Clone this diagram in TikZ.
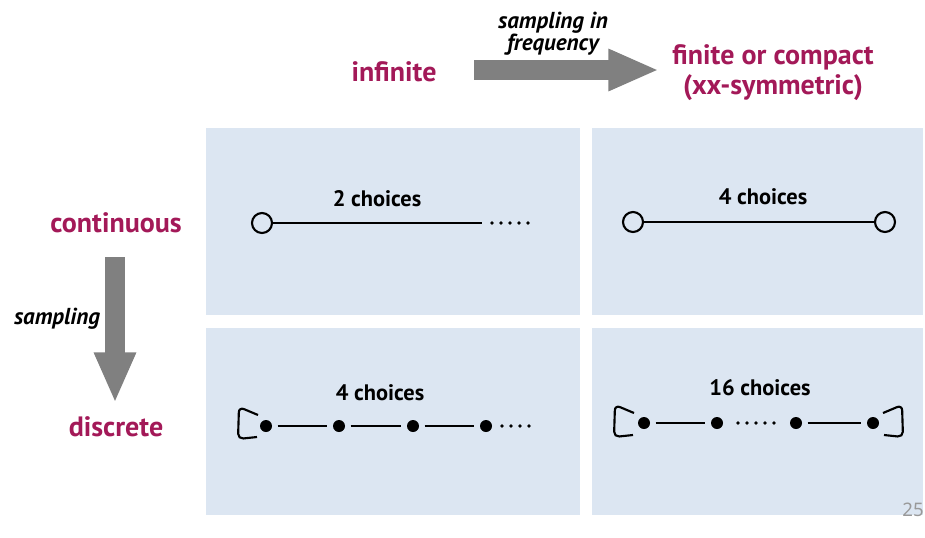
\documentclass[tikz,border=0pt]{standalone}
\usepackage{fontspec}
\setmainfont{PT Sans}
\newfontfamily\pagefont{Noto Sans}
\usetikzlibrary{arrows.meta, positioning}
\definecolor{titlered}{RGB}{163,25,88}
\definecolor{panelblue}{RGB}{220,230,242}
\definecolor{arrowgray}{RGB}{128,128,128}
\tikzset{
	heading/.style={text=titlered, font=\bfseries\fontsize{21}{23}\selectfont, align=center, inner sep=0pt},
	howto/.style={font=\bfseries\itshape\fontsize{17.3}{16.5}\selectfont, align=center, inner sep=0pt},
	count/.style={font=\bfseries\fontsize{16.8}{18}\selectfont, inner sep=0pt},
	panel/.style={fill=panelblue},
	bigarrow/.style={arrowgray, line width=15pt, -{Triangle[length=38pt, width=29pt]}},
	opendot/.style={circle, draw, line width=1.6pt, fill=panelblue, minimum size=15pt, inner sep=0pt},
	fulldot/.style={circle, fill, minimum size=9pt, inner sep=0pt},
	link/.style={line width=1.8pt},
	trail/.style={line width=2.9pt, line cap=round, dash pattern=on 0pt off 6.75pt},
	selfloop/.style={line width=1.6pt, rounded corners=4pt}
}
\begin{document}
\begin{tikzpicture}[x=0.75pt, y=-0.75pt]
	\useasboundingbox (0,0) rectangle (925,537);

	\fill[panel] (206,128) rectangle (580,315);
	\fill[panel] (592,128) rectangle (923,315);
	\fill[panel] (206,328) rectangle (580,515);
	\fill[panel] (592,328) rectangle (923,515);

	\node[heading] (infinite) at (394,72) {infinite};
	\node[heading] (finite) at (773,72.5) {finite or compact\\(xx-symmetric)};
	\node[heading] (continuous) at (116,223) {continuous};
	\node[heading] (discrete) at (116,427) {discrete};

	\coordinate (hstart) at (474,70);
	\coordinate (hend) at (659,70);
	\draw[bigarrow] (hstart) -- (hend);
	\node[howto] (freqlabel) at (553,34) {sampling in\\frequency};

	\coordinate (vstart) at (115,257);
	\coordinate (vend) at (115,403);
	\draw[bigarrow] (vstart) -- (vend);
	\node[howto] (samplabel) at (57,319) {sampling};

	\node[count] (ca) at (377,199) {2 choices};
	\node[opendot] (a1) at (262,223) {};
	\coordinate (a2) at (482,223);
	\coordinate (adots) at (492,223);
	\coordinate (aend) at (528.5,223);
	\draw[link] (a1) -- (a2);
	\draw[trail] (adots) -- (aend);

	\node[count] (cb) at (763,197) {4 choices};
	\node[opendot] (b1) at (633,222) {};
	\node[opendot] (b2) at (885,222) {};
	\draw[link] (b1) -- (b2);

	\node[count] (cc) at (380,393) {4 choices};
	\node[fulldot] (c1) at (266,426) {};
	\node[fulldot] (c2) at (339,426) {};
	\node[fulldot] (c3) at (413,426) {};
	\node[fulldot] (c4) at (486,426) {};
	\coordinate (cdots) at (502,426);
	\coordinate (cend) at (537.5,426);
	\draw[link, shorten <=4pt, shorten >=4pt] (c1) -- (c2);
	\draw[link, shorten <=4pt, shorten >=4pt] (c2) -- (c3);
	\draw[link, shorten <=4pt, shorten >=4pt] (c3) -- (c4);
	\draw[trail] (cdots) -- (cend);
	\draw[selfloop] (c1.center) ++(-8,-11) -- ++(-19,-8) -- ++(-1,32) -- ++(19,-2);

	\node[count] (cd) at (760,388) {16 choices};
	\node[fulldot] (d1) at (644,423) {};
	\node[fulldot] (d2) at (717,423) {};
	\node[fulldot] (d3) at (796,423) {};
	\node[fulldot] (d4) at (873,423) {};
	\coordinate (ddots) at (738,423);
	\coordinate (dend) at (774.5,423);
	\draw[link, shorten <=4pt, shorten >=4pt] (d1) -- (d2);
	\draw[link, shorten <=4pt, shorten >=4pt] (d3) -- (d4);
	\draw[trail] (ddots) -- (dend);
	\draw[selfloop] (d1.center) ++(-10,-10) -- ++(-19,-8) -- ++(-1,32) -- ++(19,-2);
	\draw[selfloop] (d4.center) ++(10,-10) -- ++(19,-8) -- ++(1,32) -- ++(-19,-2);

	\node[text=black!40, font=\pagefont\fontsize{14}{16}\selectfont, inner sep=0pt] (pagenum) at (913,510) {25};
\end{tikzpicture}
\end{document}
